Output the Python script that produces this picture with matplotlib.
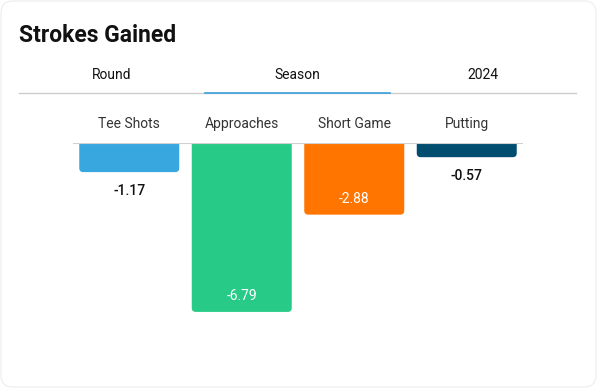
import numpy as np
import matplotlib
matplotlib.use('Agg')
from matplotlib import pyplot as plt
from matplotlib.patches import FancyBboxPatch

plt.rcParams['font.family'] = ['Roboto', 'DejaVu Sans']

categories = ['Tee Shots', 'Approaches', 'Short Game', 'Putting']
values = [-1.17, -6.79, -2.88, -0.57]
colors = ['#38A6DF', '#28CA88', '#FF7500', '#004D70']
tabs = ['Round', 'Season', '2024']
active_tab = 1
title = 'Strokes Gained'

W, H = 597, 388
fig = plt.figure(figsize=(W / 100, H / 100), dpi=100)
fig.patch.set_facecolor('white')

# card outline with rounded corners (drawn behind everything)
card = FancyBboxPatch((1 / W, 1 / H), (W - 2) / W, (H - 2) / H,
                      boxstyle='round,pad=0,rounding_size=0.02',
                      transform=fig.transFigure, fc='none', ec='#f0f0f0', lw=1,
                      mutation_aspect=W / H, zorder=-5)
fig.patches.append(card)

fig.text(19 / W, 1 - 35 / H, title, fontsize=16.5, fontweight='bold',
         va='center', ha='left', color='#111111')

# tabs
tab_x0, tab_x1 = 19, 576
tab_w = (tab_x1 - tab_x0) / len(tabs)
for i, t in enumerate(tabs):
    cx = tab_x0 + tab_w * (i + 0.5)
    fig.text(cx / W, 1 - 75 / H, t, fontsize=10, ha='center', va='center', color='#111111')
fig.add_artist(plt.Line2D([tab_x0 / W, tab_x1 / W], [1 - 93 / H] * 2,
                          transform=fig.transFigure, color='#cccccc', lw=1))
fig.add_artist(plt.Line2D([(tab_x0 + tab_w * active_tab) / W, (tab_x0 + tab_w * (active_tab + 1)) / W],
                          [1 - 93 / H] * 2, transform=fig.transFigure, color='#3A9FDB', lw=1.2))

# bar area
ax_left, ax_right, ax_top, ax_bot = 73, 523, 143, 342
ax = fig.add_axes([ax_left / W, 1 - ax_bot / H, (ax_right - ax_left) / W, (ax_bot - ax_top) / H])
ax.set_xlim(-0.5, len(categories) - 0.5)
ax.set_ylim(-8, 0)
ax.axis('off')

px_x = (ax_right - ax_left) / len(categories)   # pixels per x unit
px_y = (ax_bot - ax_top) / 8.0                   # pixels per y unit
bar_w = 100 / px_x
r = 4  # corner radius in px

x = np.arange(len(categories))
for xi, cat, v, c in zip(x, categories, values, colors):
    box = FancyBboxPatch((xi - bar_w / 2, v), bar_w, -v + 1,
                         boxstyle='round,pad=0,rounding_size=%f' % (r / px_x),
                         mutation_aspect=px_x / px_y, fc=c, ec='none')
    ax.add_patch(box)
    box.set_clip_on(True)
    if abs(v) > 2:
        ax.text(xi, v + 16 / px_y, '%.2f' % v, ha='center', va='center',
                fontsize=10, color='white')
    else:
        ax.text(xi, v - 18.5 / px_y, '%.2f' % v, ha='center', va='center',
                fontsize=10, color='#111111', fontweight='medium')
    ax.text(xi, 19 / px_y, cat, ha='center', va='center',
            fontsize=10, color='#333333', clip_on=False)

ax.axhline(0, color='#d0d0d0', lw=1.5, zorder=3)

fig.savefig('out.png', dpi=100, facecolor=fig.get_facecolor())
